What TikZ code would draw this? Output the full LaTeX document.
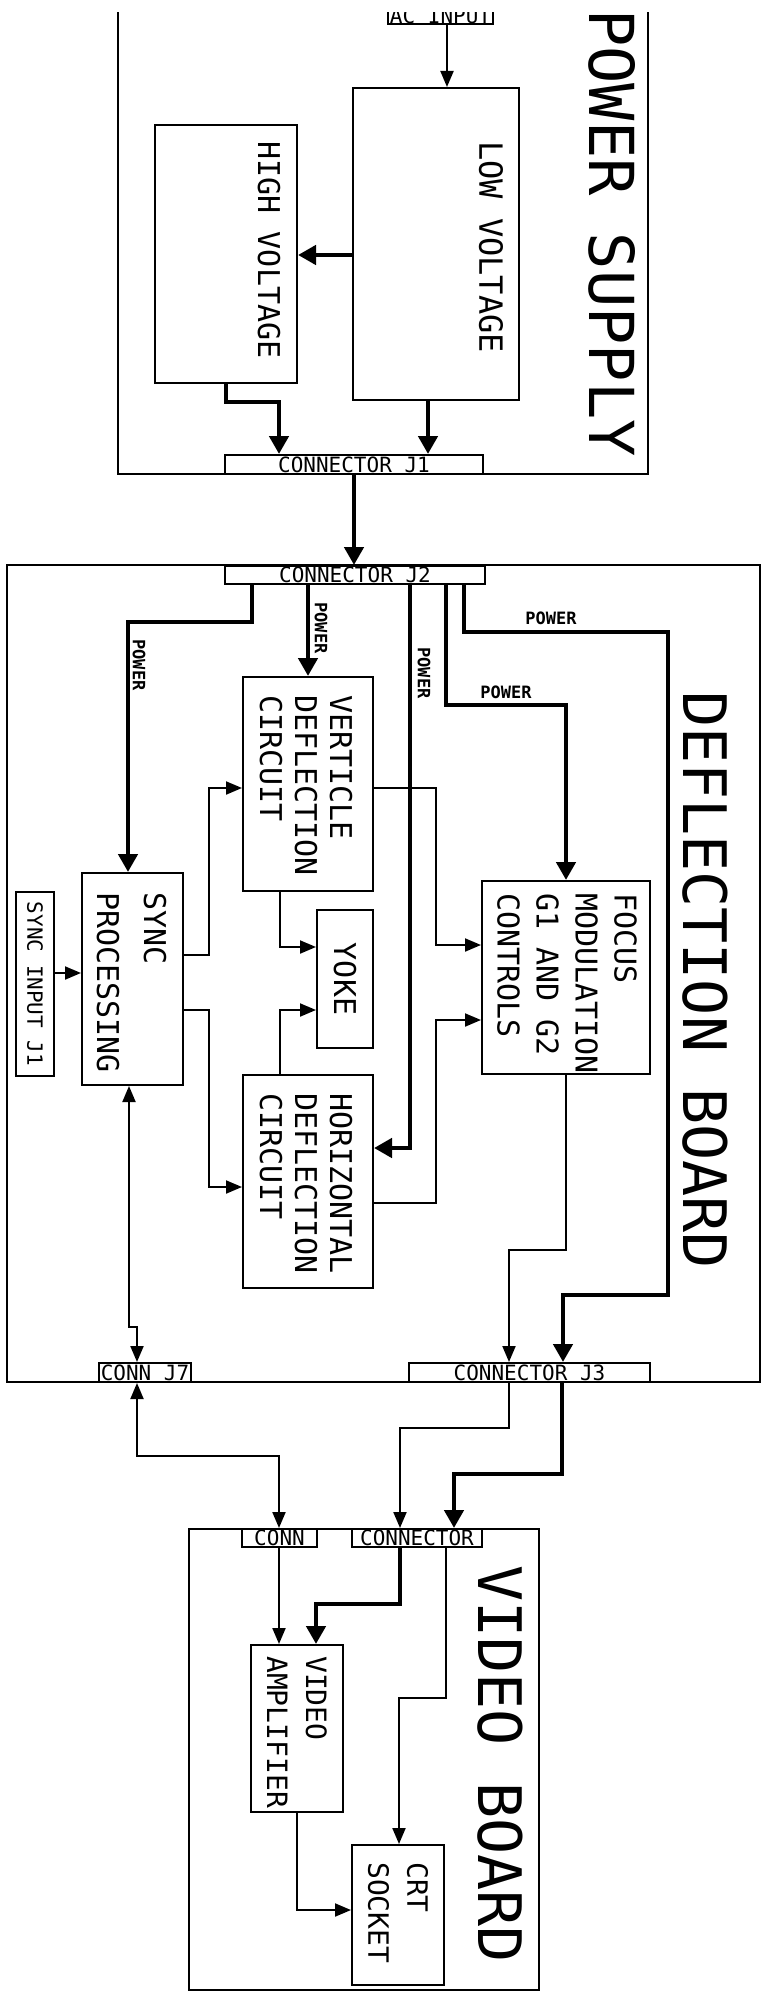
\documentclass[tikz,border=0pt]{standalone}
\usepackage{fontspec}
\usepackage{tikz}
\usetikzlibrary{arrows.meta}
\newfontfamily\plotter{DejaVu Sans Mono}
\newcommand\plotsize[2]{\plotter\fontsize{#1}{#2}\selectfont}

\begin{document}
\begin{tikzpicture}[x=1pt, y=-1pt,
    blk/.style={draw, line width=2pt, inner sep=0pt},
    jbox/.style={draw, line width=2pt, inner sep=0pt, text height=15pt, text depth=0pt, font=\plotsize{21}{21}},
    vtext/.style={rotate=-90, inner sep=0pt, align=left, font=\plotsize{30}{35}},
    boardtitle/.style={rotate=-90, inner sep=0pt, font=\plotsize{60}{60}},
    pwrlabel/.style={inner sep=0pt, font=\plotter\bfseries\fontsize{17}{17}\selectfont},
    sig/.style={line width=2pt, -{Triangle[length=16pt, width=13pt]}},
    sigboth/.style={line width=2pt, {Triangle[length=16pt, width=13pt]}-{Triangle[length=16pt, width=13pt]}},
    pwr/.style={line width=4.5pt, -{Triangle[length=18pt, width=19pt]}}
]
    \useasboundingbox (0,0) rectangle (764,1993);
    \clip (0,13) rectangle (764,1993);

    % power supply
    \draw[line width=2pt] (118,0) -- (118,474) -- (648,474) -- (648,0);
    \node[boardtitle, font=\plotsize{62}{62}] (pstitle) at (612,233) {POWER SUPPLY};
    \node[jbox, minimum width=105pt, minimum height=16pt] (acin) at (440.5,16) {AC INPUT};
    \node[blk, minimum width=166pt, minimum height=312pt] (lv) at (436,244) {};
    \node[blk, minimum width=142pt, minimum height=258pt] (hv) at (226,254) {};
    \node[vtext, font=\plotsize{32}{32}] (lvtext) at (491,247) {LOW VOLTAGE};
    \node[vtext] (hvtext) at (269,250) {HIGH VOLTAGE};
    \node[jbox, minimum width=258pt, minimum height=19pt] (j1) at (354,464.5) {CONNECTOR J1};

    \draw[sig] (acin.south -| 447,0) -- (lv.north -| 447,0);
    \draw[pwr] (lv.west |- 0,255) -- (hv.east |- 0,255);
    \draw[pwr] (hv.south) |- (279,402) -- (j1.north -| 279,0);
    \draw[pwr] (lv.south -| 428,0) -- (j1.north -| 428,0);

    % deflection board
    \node[blk, minimum width=753pt, minimum height=817pt] (db) at (383.5,973.5) {};
    \node[boardtitle] (dbtitle) at (705,980) {DEFLECTION BOARD};
    \node[jbox, minimum width=260pt, minimum height=18pt] (j2) at (355,575) {CONNECTOR J2};
    \node[jbox, minimum width=241pt, minimum height=19pt] (j3) at (529.5,1372.5) {CONNECTOR J3};
    \node[jbox, minimum width=92pt, minimum height=19pt] (j7) at (145,1372.5) {CONN J7};

    \node[blk, minimum width=101pt, minimum height=212pt] (sync) at (132.5,979) {};
    \node[blk, minimum width=38pt, minimum height=184pt] (syncin) at (35,984) {};
    \node[blk, minimum width=130pt, minimum height=214pt] (vdc) at (308,784) {};
    \node[blk, minimum width=56pt, minimum height=138pt] (yoke) at (345,979) {};
    \node[blk, minimum width=130pt, minimum height=213pt] (hdc) at (308,1181.5) {};
    \node[blk, minimum width=168pt, minimum height=193pt] (focus) at (566,977.5) {};

    \node[vtext, anchor=west, font=\plotsize{30}{47}] (synctext) at (131.5,892) {SYNC\\PROCESSING};
    \node[vtext, font=\plotsize{21}{21}] (syncintext) at (35,984) {SYNC INPUT J1};
    \node[vtext, anchor=west] (vdctext) at (306,695) {VERTICLE\\DEFLECTION\\CIRCUIT};
    \node[vtext] (yoketext) at (345,979) {YOKE};
    \node[vtext, anchor=west] (hdctext) at (306,1093) {HORIZONTAL\\DEFLECTION\\CIRCUIT};
    \node[vtext, anchor=west, font=\plotsize{30}{39}] (focustext) at (567,893) {FOCUS\\MODULATION\\G1 AND G2\\CONTROLS};

    \draw[pwr] (j1.south) -- (j2.north -| j1.south);

    % power feeds from J2
    \draw[pwr] (j2.south -| 252,0) |- (128,622) -- (sync.north -| 128,0);
    \draw[pwr] (j2.south -| vdc.north) -- (vdc.north);
    \draw[pwr] (j2.south -| 410,0) |- (hdc.east |- 0,1148);
    \draw[pwr] (j2.south -| 446,0) |- (focus.north |- 0,705) -- (focus.north);
    \draw[pwr] (j2.south -| 464,0) |- (668,632) |- (563,1295) -- (j3.north -| 563,0);
    \node[pwrlabel, rotate=-90] (p1) at (139,665) {POWER};
    \node[pwrlabel, rotate=-90] (p2) at (321,628) {POWER};
    \node[pwrlabel, rotate=-90] (p3) at (424,673) {POWER};
    \node[pwrlabel] (p4) at (506,692) {POWER};
    \node[pwrlabel] (p5) at (551,618) {POWER};

    % signals
    \draw[sig] (syncin.east |- 0,973) -- (sync.west |- 0,973);
    \draw[sig] (sync.east |- 0,955) -| (209,788) -- (vdc.west |- 0,788);
    \draw[sig] (sync.east |- 0,1010) -| (209,1187) -- (hdc.west |- 0,1187);
    \draw[sig] (vdc.south -| 280,0) |- (yoke.west |- 0,947);
    \draw[sig] (hdc.north -| 280,0) |- (yoke.west |- 0,1010);
    \draw[sig] (vdc.east |- 0,788) -| (436,945) -- (focus.west |- 0,945);
    \draw[sig] (hdc.east |- 0,1203) -| (436,1020) -- (focus.west |- 0,1020);
    \draw[sig] (focus.south) |- (509,1250) -- (j3.north -| 509,0);
    \draw[sigboth] (sync.south -| 129,0) |- (137,1327) -- (j7.north -| 137,0);

    % video board
    \node[blk, minimum width=350pt, minimum height=461pt] (vb) at (364,1759.5) {};
    \node[boardtitle] (vbtitle) at (500,1764) {VIDEO BOARD};
    \node[jbox, minimum width=75pt, minimum height=18pt] (vconn) at (279.5,1538) {CONN};
    \node[jbox, minimum width=130pt, minimum height=18pt] (vconnector) at (417,1538) {CONNECTOR};
    \node[blk, minimum width=92pt, minimum height=167pt] (vamp) at (297,1728.5) {};
    \node[blk, minimum width=92pt, minimum height=140pt] (crt) at (398,1915) {};
    \node[vtext, anchor=west, font=\plotsize{28}{39}] (vamptext) at (297,1656) {VIDEO\\AMPLIFIER};
    \node[vtext, anchor=west, font=\plotsize{28}{39}] (crttext) at (398,1862) {CRT\\SOCKET};

    \draw[sigboth] (j7.south -| 137,0) |- (279,1456) -- (vconn.north -| 279,0);
    \draw[sig] (j3.south -| 509,0) |- (400,1428) -- (vconnector.north -| 400,0);
    \draw[pwr] (j3.south -| 562,0) |- (454,1474) -- (vconnector.north -| 454,0);
    \draw[sig] (vconn.south -| 279,0) -- (vamp.north -| 279,0);
    \draw[pwr] (vconnector.south -| 400,0) |- (316,1604) -- (vamp.north -| 316,0);
    \draw[sig] (vconnector.south -| 446,0) |- (399,1698) -- (crt.north -| 399,0);
    \draw[sig] (vamp.south) |- (crt.west |- 0,1910);
\end{tikzpicture}
\end{document}
